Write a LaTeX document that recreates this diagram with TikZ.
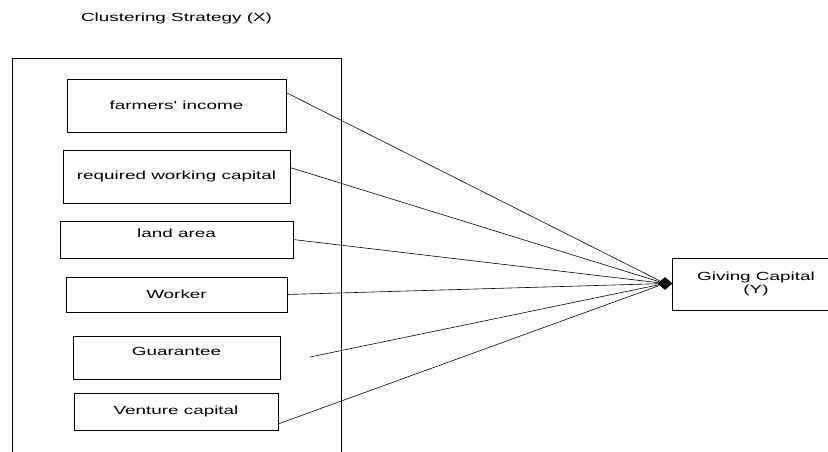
\documentclass[tikz,border=0pt]{standalone}
\usepackage{fontspec}
\usepackage{graphicx}
\setmainfont{Liberation Sans}
\usepackage{tikz}
\usetikzlibrary{shapes}

\newcommand{\widetxt}[1]{\scalebox{1.6}[1]{#1}}

\begin{document}
\begin{tikzpicture}[x=1pt, y=-1pt,
        box/.style = {draw, rectangle, line width=0.8pt, inner sep=0pt, outer sep=0pt,
                      font=\fontsize{11.8}{13.3}\selectfont, align=center},
        topbox/.style = {box, text depth=13pt},
        link/.style = {line width=0.6pt}]
                \clip (0,0) rectangle (828,452);

                \node[font=\fontsize{11.8}{13.3}\selectfont] at (176.5, 18) (title) {\widetxt{Clustering Strategy (X)}};
                \draw [line width=0.8pt] (12, 470) -- (12, 58) -- (341, 58) -- (341, 470);

                \node[box, minimum width=219pt, minimum height=53pt] at (176.5, 105.5) (fi) {\widetxt{farmers\textquotesingle{} income}};
                \node[box, minimum width=227pt, minimum height=53pt] at (176.5, 176.5) (rwc) {\widetxt{required working capital}};
                \node[topbox, minimum width=233pt, minimum height=37pt] at (176.5, 239.5) (la) {\widetxt{land area}};
                \node[box, minimum width=221pt, minimum height=35pt] at (176.5, 294.5) (wk) {\widetxt{Worker}};
                \node[topbox, minimum width=207pt, minimum height=43pt] at (176.5, 357.5) (gu) {\widetxt{Guarantee}};
                \node[box, minimum width=204pt, minimum height=37pt] at (176, 411.5) (vc) {\widetxt{Venture capital}};

                \node[box, minimum width=168pt, minimum height=52pt] at (756, 284) (gc) {\widetxt{Giving Capital}\\\widetxt{(Y)}};
                \node[diamond, fill=black, inner sep=0pt, minimum width=15pt, minimum height=13pt] at (665, 283.5) (dmd) {};
                \coordinate (gufree) at (310, 357);

                \draw [link] ([yshift=13pt]fi.east) -- (dmd);
                \draw [link] ([yshift=9pt]rwc.east) -- (dmd);
                \draw [link] (la.east) -- (dmd);
                \draw [link] (wk.east) -- (dmd);
                \draw [link] (gufree) -- (dmd);
                \draw [link] ([yshift=-12.5pt]vc.east) -- (dmd);
            \end{tikzpicture}
\end{document}
